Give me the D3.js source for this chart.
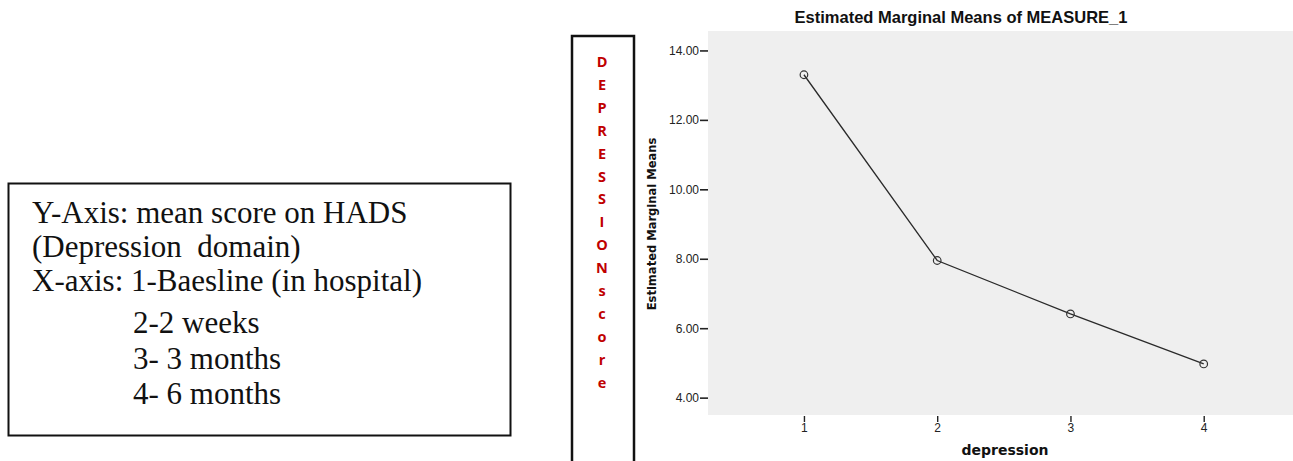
<!DOCTYPE html>
<html>
<head>
<meta charset="utf-8">
<script src="https://cdn.jsdelivr.net/npm/d3@7/dist/d3.min.js"></script>
<style>
  html, body { margin: 0; padding: 0; background: #fff; }
  svg { display: block; }
</style>
</head>
<body>
<svg id="chart" width="1293" height="461"></svg>
<script>
// Time points (x categories) and estimated marginal means of the HADS depression score
const timePoints = [1, 2, 3, 4];
const meanScores = [13.30, 7.95, 6.41, 4.97];
const yTicks = [4, 6, 8, 10, 12, 14];

// Notes box text
const noteLines = [
  "Y-Axis: mean score on HADS",
  "(Depression  domain)",
  "X-axis: 1-Baesline (in hospital)",
  "2-2 weeks",
  "3- 3 months",
  "4- 6 months"
];
const sideLetters = ["D","E","P","R","E","S","S","I","O","N","s","c","o","r","e"];

const svg = d3.select("#chart");

// ---- notes box on the left ----
const note = svg.append("g");
note.append("rect")
  .attr("x", 8.5).attr("y", 183.5).attr("width", 502).attr("height", 252)
  .attr("fill", "none").attr("stroke", "#111").attr("stroke-width", 2);
const noteX = [32, 32, 32, 133, 133, 133];
const noteY = [223, 257, 291, 333, 369, 404];
note.selectAll("text").data(noteLines).join("text")
  .attr("x", (d, i) => noteX[i])
  .attr("y", (d, i) => noteY[i])
  .attr("font-family", "'Liberation Serif', 'Times New Roman', serif")
  .attr("font-size", 31)
  .attr("fill", "#111")
  .style("white-space", "pre")
  .text(d => d);

// ---- vertical red label box ----
const side = svg.append("g");
side.append("rect")
  .attr("x", 572).attr("y", 36).attr("width", 62).attr("height", 440)
  .attr("fill", "none").attr("stroke", "#111").attr("stroke-width", 2.5);
side.selectAll("text").data(sideLetters).join("text")
  .attr("x", 602)
  .attr("y", (d, i) => 67 + i * 22.9)
  .attr("text-anchor", "middle")
  .attr("font-family", "'Open Sans', 'Noto Sans', sans-serif")
  .attr("font-weight", "bold")
  .attr("font-size", 14.5)
  .attr("fill", "#c00000")
  .text(d => d);

// ---- plot ----
const plot = { left: 708, right: 1293, top: 31, bottom: 415 };

const x = d3.scaleLinear().domain([0.28, 4.67]).range([plot.left, plot.right]);
const y = d3.scaleLinear().domain([3.5, 14.56]).range([plot.bottom, plot.top]);

svg.append("rect")
  .attr("x", plot.left).attr("y", plot.top)
  .attr("width", plot.right - plot.left).attr("height", plot.bottom - plot.top)
  .attr("fill", "#efefef");

// y axis: ticks only, no domain line
const yAxis = svg.append("g")
  .attr("transform", `translate(${plot.left},0)`)
  .call(d3.axisLeft(y).tickValues(yTicks).tickFormat(d3.format(".2f")).tickSize(8).tickPadding(1));
yAxis.select(".domain").remove();
yAxis.selectAll("line").attr("stroke", "#222").attr("stroke-width", 1.6);
yAxis.selectAll("text")
  .attr("font-family", "'Liberation Sans', Arial, sans-serif")
  .attr("font-size", 12).attr("fill", "#222");

// x axis: short tick marks below the plot area
const xAxis = svg.append("g")
  .attr("transform", `translate(0,${plot.bottom})`)
  .call(d3.axisBottom(x).tickValues(timePoints).tickFormat(d3.format("d")).tickSize(0).tickPadding(8));
xAxis.select(".domain").remove();
xAxis.selectAll(".tick").append("line")
  .attr("y1", 1).attr("y2", 7).attr("stroke", "#222").attr("stroke-width", 1.4);
xAxis.selectAll("text")
  .attr("font-family", "'Liberation Sans', Arial, sans-serif")
  .attr("font-size", 12).attr("fill", "#222");

// series line and open circle markers
const pts = timePoints.map((t, i) => ({ t, v: meanScores[i] }));
svg.append("path")
  .datum(pts)
  .attr("fill", "none").attr("stroke", "#2a2a2a").attr("stroke-width", 1.3)
  .attr("d", d3.line().x(d => x(d.t)).y(d => y(d.v)));
svg.selectAll("circle.pt").data(pts).join("circle")
  .attr("class", "pt")
  .attr("cx", d => x(d.t)).attr("cy", d => y(d.v)).attr("r", 3.8)
  .attr("fill", "none").attr("stroke", "#333").attr("stroke-width", 1.2);

// titles
svg.append("text")
  .attr("x", 961).attr("y", 23)
  .attr("text-anchor", "middle")
  .attr("font-family", "'Liberation Sans', Arial, sans-serif")
  .attr("font-weight", "bold").attr("font-size", 16.5).attr("fill", "#111")
  .text("Estimated Marginal Means of MEASURE_1");

svg.append("text")
  .attr("transform", "translate(656,224) rotate(-90)")
  .attr("text-anchor", "middle")
  .attr("font-family", "'DejaVu Sans Condensed', 'DejaVu Sans', sans-serif")
  .attr("font-stretch", "condensed")
  .attr("font-weight", "bold").attr("font-size", 12.8).attr("fill", "#111")
  .text("Estimated Marginal Means");

svg.append("text")
  .attr("x", 1005).attr("y", 455)
  .attr("text-anchor", "middle")
  .attr("font-family", "'DejaVu Sans', sans-serif")
  .attr("font-weight", "bold").attr("font-size", 14).attr("fill", "#111")
  .text("depression");
</script>
</body>
</html>
